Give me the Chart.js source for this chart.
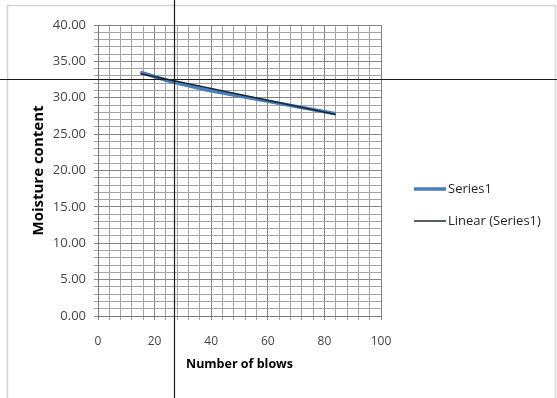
<!DOCTYPE html>
<html>
<head>
<meta charset="utf-8">
<script src="https://cdn.jsdelivr.net/npm/chart.js@4/dist/chart.umd.min.js"></script>
<style>
  html, body { margin: 0; padding: 0; background: #fff; }
  #wrap { width: 557px; height: 398px; }
</style>
</head>
<body>
<div id="wrap"><canvas id="c" width="557" height="398"></canvas></div>
<script>
// Liquid limit test: moisture content against number of blows
const blows = [15, 25, 38, 84];
const moistureContent = [33.5, 32.3, 31.1, 27.8];

// Linear trend line end points
const trendBlows = [15, 84];
const trendMoisture = [33.3, 27.7];

// Axis tick labels
const xTickLabels = ['0', '20', '40', '60', '80', '100'];
const yTickLabels = ['0.00', '5.00', '10.00', '15.00', '20.00', '25.00', '30.00', '35.00', '40.00'];

// Reading guides
const guideBlows = 27;
const guideMoisture = 32.6;

const FONT = '"Open Sans", Lato, "Liberation Sans", sans-serif';
const MINOR = '#a4a4a4';
const MAJOR = '#858585';

const framePlugin = {
  id: 'frame',
  beforeDraw(chart) {
    const c = chart.ctx;
    c.save();
    c.fillStyle = '#ffffff';
    c.fillRect(0, 0, chart.width, chart.height);
    c.strokeStyle = '#d4d4d4';
    c.lineWidth = 1.5;
    c.strokeRect(7.5, 5.5, chart.width - 9, chart.height + 10);
    c.restore();
  }
};

const legendPlugin = {
  id: 'sideLegend',
  afterDraw(chart) {
    const c = chart.ctx;
    const rows = [189, 221];
    c.save();
    chart.data.datasets.forEach((ds, i) => {
      const y = rows[i];
      c.strokeStyle = ds.borderColor;
      c.lineWidth = ds.borderWidth;
      c.beginPath();
      c.moveTo(414, y);
      c.lineTo(446, y);
      c.stroke();
      c.fillStyle = '#262626';
      c.font = '13px ' + FONT;
      c.textBaseline = 'middle';
      c.textAlign = 'left';
      c.fillText(ds.label, 448, y);
    });
    c.restore();
  }
};

const guidePlugin = {
  id: 'guides',
  afterDraw(chart) {
    const c = chart.ctx;
    const px = Math.round(chart.scales.x.getPixelForValue(guideBlows)) + 0.5;
    const py = Math.round(chart.scales.y.getPixelForValue(guideMoisture)) + 0.5;
    c.save();
    c.strokeStyle = '#1a1a1a';
    c.lineWidth = 1.2;
    c.beginPath();
    c.moveTo(px, 0);
    c.lineTo(px, chart.height);
    c.moveTo(0, py);
    c.lineTo(chart.width, py);
    c.stroke();
    c.restore();
  }
};

new Chart(document.getElementById('c'), {
  type: 'scatter',
  data: {
    datasets: [
      {
        label: 'Series1',
        data: blows.map((b, i) => ({ x: b, y: moistureContent[i] })),
        showLine: true,
        borderColor: '#4a7ebb',
        borderWidth: 3.5,
        pointRadius: 0,
        order: 2
      },
      {
        label: 'Linear (Series1)',
        data: trendBlows.map((b, i) => ({ x: b, y: trendMoisture[i] })),
        showLine: true,
        borderColor: '#1c2733',
        borderWidth: 1.5,
        pointRadius: 0,
        order: 1
      }
    ]
  },
  options: {
    responsive: false,
    animation: false,
    layout: { padding: { left: 26, top: 25, right: 176, bottom: 22 } },
    plugins: { legend: { display: false }, tooltip: { enabled: false } },
    scales: {
      x: {
        type: 'linear',
        min: 0,
        max: 100,
        afterFit(s) { s.height = 60; },
        ticks: {
          stepSize: 4,
          autoSkip: false,
          maxRotation: 0,
          padding: 14,
          color: '#454545',
          font: { family: FONT, size: 12 },
          callback: v => xTickLabels.includes(String(v)) ? String(v) : ''
        },
        grid: {
          color: ctx => (ctx.tick && ctx.tick.value % 20 === 0) ? MAJOR : MINOR,
          tickLength: 4,
          lineWidth: 1
        },
        border: { color: '#7a7a7a' },
        title: {
          display: true,
          text: 'Number of blows',
          color: '#000',
          font: { family: FONT, size: 12.5, weight: 'bold' }
        }
      },
      y: {
        type: 'linear',
        min: 0,
        max: 40,
        afterFit(s) { s.width = 72; },
        ticks: {
          stepSize: 1,
          autoSkip: false,
          padding: 8,
          color: '#454545',
          font: { family: FONT, size: 13 },
          callback: v => {
            const s = Number(v).toFixed(2);
            return yTickLabels.includes(s) ? s : '';
          }
        },
        grid: {
          color: ctx => (ctx.tick && ctx.tick.value % 5 === 0) ? MAJOR : MINOR,
          tickLength: 4,
          lineWidth: 1
        },
        border: { color: '#7a7a7a' },
        title: {
          display: true,
          text: 'Moisture content',
          color: '#000',
          font: { family: FONT, size: 15, weight: 'bold' }
        }
      }
    }
  },
  plugins: [framePlugin, legendPlugin, guidePlugin]
});
</script>
</body>
</html>
